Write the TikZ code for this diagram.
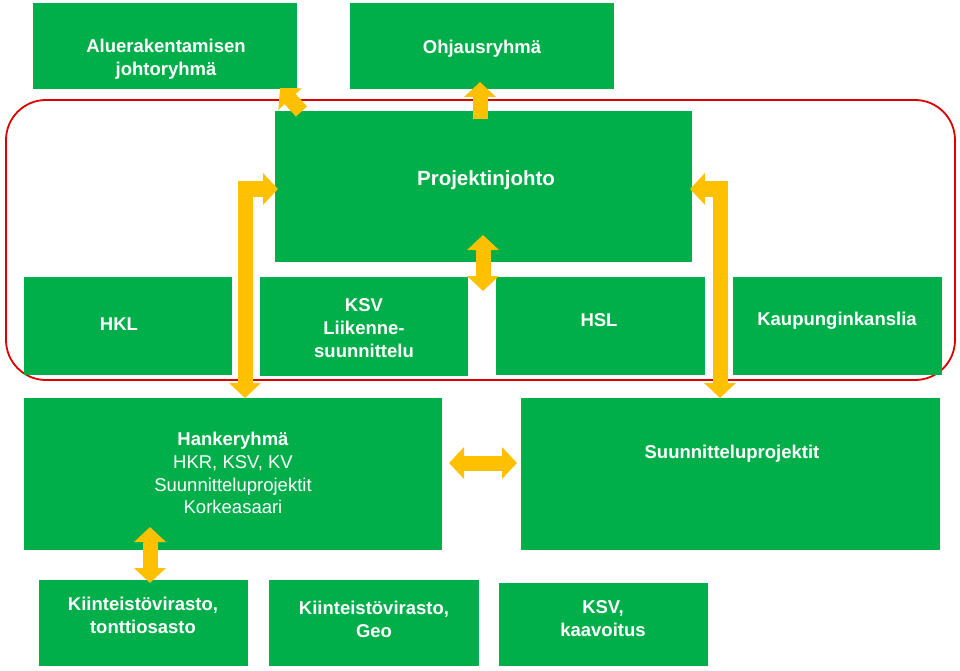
\documentclass[tikz,border=0pt]{standalone}
\usepackage{fontspec}
\setmainfont{Liberation Sans}
\usetikzlibrary{arrows.meta}
\definecolor{gr}{HTML}{00AE4A}
\definecolor{orng}{HTML}{FFC000}
\definecolor{redline}{HTML}{DD0000}
\tikzset{
  box/.style={fill=gr, draw=none, inner sep=0pt, outer sep=0pt, anchor=north west},
  txt/.style={text=white, align=center, inner sep=0pt, font=\fontsize{18.5}{22.8}\selectfont\bfseries},
  onearrow/.style={draw=orng, line width=15pt, -{Triangle[width=31pt,length=15pt]}},
  twoarrow/.style={draw=orng, line width=15pt, line join=miter, {Triangle[width=31pt,length=15pt]}-{Triangle[width=31pt,length=15pt]}},
}
\begin{document}
\begin{tikzpicture}[x=1pt,y=-1pt]
\useasboundingbox (0,0) rectangle (960,671);
% red frame
\draw[redline, line width=1.8pt, rounded corners=40pt] (6,100) rectangle (955,380);
% boxes
\node[box, minimum width=264pt, minimum height=86pt] (alu) at (33,3) {};
\node[box, minimum width=264pt, minimum height=86pt] (ohj) at (350,3) {};
\node[box, minimum width=417pt, minimum height=151pt] (pj) at (275,111) {};
\node[box, minimum width=208pt, minimum height=98pt] (hkl) at (24,277) {};
\node[box, minimum width=208pt, minimum height=99pt] (ksv) at (260,277) {};
\node[box, minimum width=209pt, minimum height=98pt] (hsl) at (496,277) {};
\node[box, minimum width=209pt, minimum height=98pt] (kk) at (733,277) {};
\node[box, minimum width=418pt, minimum height=152pt] (hank) at (24,398) {};
\node[box, minimum width=419pt, minimum height=152pt] (suun) at (521,398) {};
\node[box, minimum width=209pt, minimum height=86pt] (kv1) at (39,580) {};
\node[box, minimum width=210pt, minimum height=86pt] (kv2) at (269,580) {};
\node[box, minimum width=209pt, minimum height=83pt] (kaav) at (499,583) {};
% texts
\node[txt] (talu) at (166,59) {Aluerakentamisen\\johtoryhmä};
\node[txt] (tohj) at (482,49) {Ohjausryhmä};
\node[txt, font=\fontsize{20.5}{24}\selectfont\bfseries] (tpj) at (486,180) {Projektinjohto};
\node[txt] (thkl) at (119,324.5) {HKL};
\node[txt] (tksv) at (364,328) {KSV\\Liikenne-\\suunnittelu};
\node[txt] (thsl) at (599,320.5) {HSL};
\node[txt] (tkk) at (837,320.5) {Kaupunginkanslia};
\node[txt, font=\fontsize{18.5}{22.8}\selectfont] (thank) at (233,473) {{\bfseries Hankeryhmä}\\HKR, KSV, KV\\Suunnitteluprojektit\\Korkeasaari};
\node[txt] (tsuun) at (732,453.5) {Suunnitteluprojektit};
\node[txt] (tkv1) at (143,615) {Kiinteistövirasto,\\tonttiosasto};
\node[txt] (tkv2) at (374,619.5) {Kiinteistövirasto,\\Geo};
\node[txt] (tkaav) at (603,619) {KSV,\\kaavoitus};
% arrow end points
\coordinate (lx) at (245,0);
\coordinate (rx) at (720,0);
\coordinate (ly) at (0,189);
\coordinate (dtail) at (301.5,111.5);
\coordinate (dtip) at (280,88);
% arrows
\draw[onearrow] (dtail) -- (dtip);
\draw[onearrow] ([yshift=-8pt]pj.north -| 480,0) -- ([yshift=7pt]ohj.south -| 480,0);
\draw[twoarrow] ([yshift=27pt]pj.south -| 483,0) -- ([yshift=-14pt]hsl.north -| 483,0);
\draw[twoarrow] ([xshift=3pt]pj.west |- ly) -| (lx |- hank.north);
\draw[twoarrow] ([xshift=-2pt]pj.east |- ly) -| (rx |- suun.north);
\draw[twoarrow] ([xshift=7pt]hank.east |- 0,463) -- ([xshift=-4pt]suun.west |- 0,463);
\draw[twoarrow] ([yshift=23pt]hank.south -| 150,0) -- ([yshift=-3pt]kv1.north -| 150,0);
\end{tikzpicture}
\end{document}
